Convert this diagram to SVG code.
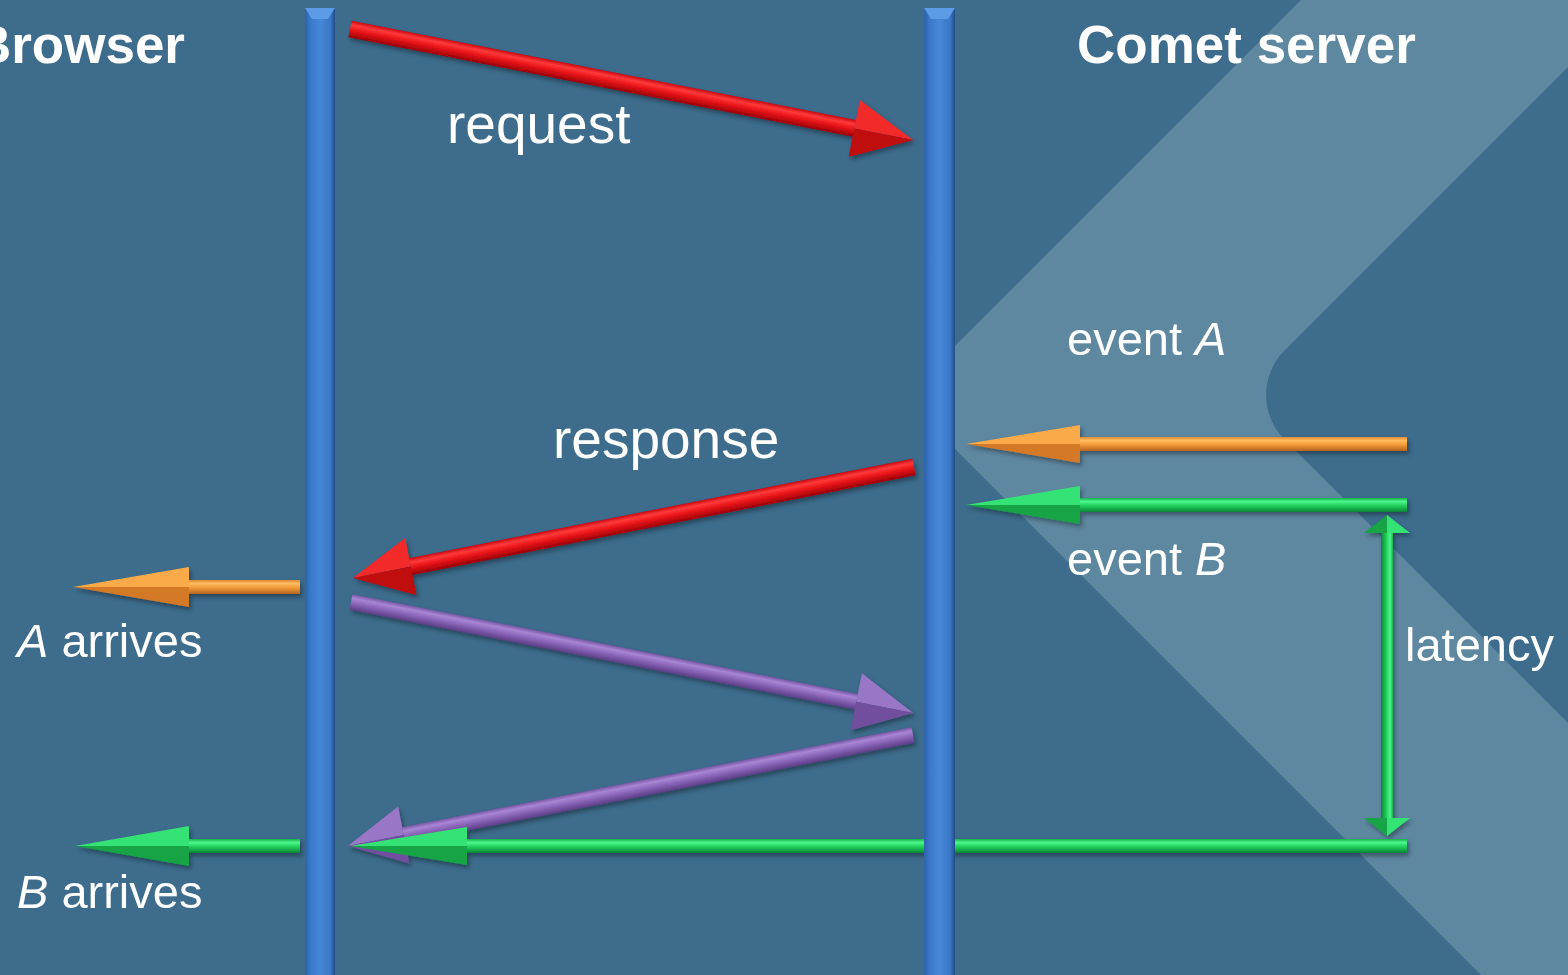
<svg xmlns="http://www.w3.org/2000/svg" width="1568" height="975" viewBox="0 0 1568 975">
<defs>
<style>
.t{fill:#fff;font-family:"Liberation Sans",Arial,sans-serif}
.title{font-size:53px;font-weight:bold}
.big{font-size:55px}
.sm{font-size:47px}
.it{font-style:italic}
</style>
<filter id="sh" x="-5%" y="-30%" width="110%" height="160%">
<feDropShadow dx="2" dy="3" stdDeviation="2" flood-color="#000" flood-opacity="0.35"/>
</filter>
<linearGradient id="gRed" x1="0" y1="0" x2="0" y2="1">
<stop offset="0" stop-color="#C80810"/><stop offset="0.25" stop-color="#FF3A3A"/><stop offset="0.55" stop-color="#E81418"/><stop offset="1" stop-color="#9A0008"/>
</linearGradient>
<linearGradient id="gOr" x1="0" y1="0" x2="0" y2="1">
<stop offset="0" stop-color="#E08A30"/><stop offset="0.25" stop-color="#FFBC62"/><stop offset="0.55" stop-color="#F49A38"/><stop offset="1" stop-color="#B46420"/>
</linearGradient>
<linearGradient id="gGr" x1="0" y1="0" x2="0" y2="1">
<stop offset="0" stop-color="#16B04A"/><stop offset="0.25" stop-color="#4EF68C"/><stop offset="0.55" stop-color="#20D05C"/><stop offset="1" stop-color="#0C8436"/>
</linearGradient>
<linearGradient id="gPu" x1="0" y1="0" x2="0" y2="1">
<stop offset="0" stop-color="#7A55A6"/><stop offset="0.25" stop-color="#A886D4"/><stop offset="0.55" stop-color="#8C66BA"/><stop offset="1" stop-color="#5C3D86"/>
</linearGradient>
<linearGradient id="gBar" x1="0" y1="0" x2="1" y2="0">
<stop offset="0" stop-color="#2C62A8"/><stop offset="0.18" stop-color="#3A78C8"/><stop offset="0.5" stop-color="#4688D8"/><stop offset="0.85" stop-color="#3A76C4"/><stop offset="1" stop-color="#224C84"/>
</linearGradient>
</defs>

<rect id="background" x="0" y="0" width="1568" height="975" fill="#3D6C8C"/>
<path id="band" d="M1301,0 L1568,0 L1568,67 L1284.5,350.5 A63,63 0 0 0 1284.5,439.5 L1568,723 L1568,975 L1481,975 L955,449 L955,346 Z" fill="#5E87A0"/>

<g id="connectors" filter="url(#sh)">
<g id="request-arrow" transform="translate(350,29) rotate(11.15)">
<rect x="0" y="-8.5" width="514" height="17" fill="url(#gRed)"/>
<polygon points="514,-29 574,0 514,0" fill="#F22A2A"/><polygon points="514,0 574,0 514,29" fill="#C00810"/>
</g>
<g id="response-arrow" transform="translate(914,467) scale(-1,1) rotate(11.19)">
<rect x="0" y="-8.5" width="513" height="17" fill="url(#gRed)"/>
<polygon points="513,-29 572,0 513,0" fill="#F22A2A"/><polygon points="513,0 572,0 513,29" fill="#C00810"/>
</g>
<g id="purple-request" transform="translate(351,602) rotate(11.17)">
<rect x="0" y="-8" width="515" height="16" fill="url(#gPu)"/>
<polygon points="515,-29 573,0 515,0" fill="#9A76C6"/><polygon points="515,0 573,0 515,29" fill="#72509E"/>
</g>
<g id="purple-response" transform="translate(913,735) scale(-1,1) rotate(11.11)">
<rect x="0" y="-8" width="519" height="16" fill="url(#gPu)"/>
<polygon points="519,-29 576,0 519,0" fill="#9A76C6"/><polygon points="519,0 576,0 519,29" fill="#72509E"/>
</g>
<g id="eventA-arrow" transform="translate(1407,444) scale(-1,1)">
<rect x="0" y="-7" width="327" height="14" fill="url(#gOr)"/>
<polygon points="327,-19 441,0 327,0" fill="#FBAA48"/><polygon points="327,0 441,0 327,19" fill="#D47A28"/>
</g>
<g id="eventB-arrow" transform="translate(1407,505) scale(-1,1)">
<rect x="0" y="-7" width="327" height="14" fill="url(#gGr)"/>
<polygon points="327,-19 441,0 327,0" fill="#36E274"/><polygon points="327,0 441,0 327,19" fill="#12A444"/>
</g>
<g id="A-arrives-arrow" transform="translate(300,587) scale(-1,1)">
<rect x="0" y="-7" width="111" height="14" fill="url(#gOr)"/>
<polygon points="111,-20 227,0 111,0" fill="#FBAA48"/><polygon points="111,0 227,0 111,20" fill="#D47A28"/>
</g>
<g id="B-arrives-arrow" transform="translate(300,846) scale(-1,1)">
<rect x="0" y="-7" width="111" height="14" fill="url(#gGr)"/>
<polygon points="111,-20 225,0 111,0" fill="#36E274"/><polygon points="111,0 225,0 111,20" fill="#12A444"/>
</g>
<g id="B-delivery-arrow" transform="translate(1407,846) scale(-1,1)">
<rect x="0" y="-7" width="940" height="14" fill="url(#gGr)"/>
<polygon points="940,-19 1057,0 940,0" fill="#36E274"/><polygon points="940,0 1057,0 940,19" fill="#12A444"/>
</g>
<g id="latency-arrow" transform="translate(1387,515) rotate(90)">
<rect x="18" y="-6" width="285" height="12" fill="url(#gGr)"/>
<polygon points="18,-23 0,0 18,0" fill="#36E274"/><polygon points="18,0 0,0 18,23" fill="#12A444"/>
<polygon points="303,-23 321,0 303,0" fill="#36E274"/><polygon points="303,0 321,0 303,23" fill="#12A444"/>
</g>
</g>

<g id="browser-bar">
<rect x="305" y="8" width="30" height="967" fill="url(#gBar)"/>
<polygon points="305,8 335,8 328,19 312,19" fill="#5C9CE6"/>
</g>
<g id="server-bar">
<rect x="924" y="8" width="31" height="967" fill="url(#gBar)"/>
<polygon points="924,8 955,8 948,19 931,19" fill="#5C9CE6"/>
</g>

<g id="labels">
<text id="browser-label" class="t title" x="185" y="63" text-anchor="end">Browser</text>
<text id="server-label" class="t title" x="1077" y="63">Comet server</text>
<text class="t big" x="447" y="143">request</text>
<text class="t big" x="553" y="458">response</text>
<text class="t sm" x="1067" y="355">event <tspan class="it">A</tspan></text>
<text class="t sm" x="1067" y="575">event <tspan class="it">B</tspan></text>
<text class="t sm" x="1405" y="661">latency</text>
<text class="t sm" x="17" y="657"><tspan class="it">A</tspan> arrives</text>
<text class="t sm" x="17" y="908"><tspan class="it">B</tspan> arrives</text>
</g>
</svg>
